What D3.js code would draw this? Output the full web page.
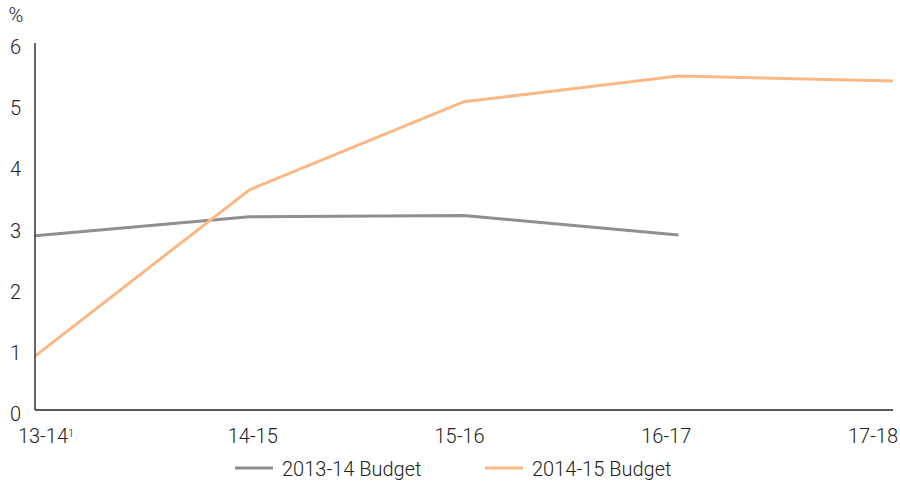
<!DOCTYPE html>
<html>
<head>
<meta charset="utf-8">
<script src="https://cdn.jsdelivr.net/npm/d3@7"></script>
<style>
body { margin: 0; background: #fff; }
text { font-family: Roboto, "Liberation Sans", sans-serif; font-weight: 300; fill: #222; }
</style>
</head>
<body>
<div id="chart"></div>
<script>
var years = ["13-14", "14-15", "15-16", "16-17", "17-18"];
var budget1314 = [2.85, 3.16, 3.18, 2.86, null];
var budget1415 = [0.88, 3.60, 5.04, 5.46, 5.38];
var yTicks = [0, 1, 2, 3, 4, 5, 6];
var seriesNames = ["2013-14 Budget", "2014-15 Budget"];
var seriesColors = ["#8f8f91", "#fbb884"];

var width = 900, height = 483;
var svg = d3.select("#chart").append("svg")
	.attr("width", width)
	.attr("height", height);

var x = d3.scalePoint().domain(years).range([35, 893]);
// category labels sit on their own even spread in the original
var xLab = d3.scalePoint().domain(years).range([46, 873]);
var y = d3.scaleLinear().domain([0, 6]).range([410, 43]);

// y labels
svg.selectAll(".ylab")
	.data(yTicks)
	.enter().append("text")
	.attr("x", 21)
	.attr("y", function(d) { return y(d) + 4; })
	.attr("dy", "0.35em")
	.attr("text-anchor", "end")
	.attr("font-size", 20)
	.text(function(d) { return d; });

svg.append("text")
	.attr("x", 16)
	.attr("y", 15)
	.attr("dy", "0.35em")
	.attr("text-anchor", "middle")
	.attr("font-size", 20)
	.text("%");

// x labels
var xl = svg.selectAll(".xlab")
	.data(years)
	.enter().append("text")
	.attr("x", function(d) { return xLab(d); })
	.attr("y", 443)
	.attr("text-anchor", "middle")
	.attr("font-size", 20);
xl.append("tspan").text(function(d) { return d; });
xl.filter(function(d, i) { return i == 0; })
	.append("tspan")
	.attr("font-size", 11)
	.attr("dy", -6)
	.text("1");

// lines
var line = d3.line()
	.defined(function(d) { return d != null; })
	.x(function(d, i) { return x(years[i]); })
	.y(function(d) { return y(d); });

[budget1314, budget1415].forEach(function(s, k) {
	svg.append("path")
		.datum(s)
		.attr("d", line)
		.attr("fill", "none")
		.attr("stroke", seriesColors[k])
		.attr("stroke-width", 3);
});

// axes
svg.append("line")
	.attr("x1", x(years[0])).attr("x2", x(years[0]))
	.attr("y1", y(6)).attr("y2", y(0))
	.attr("stroke", "#333").attr("stroke-width", 1.5);
svg.append("line")
	.attr("x1", x(years[0])).attr("x2", x(years[4]))
	.attr("y1", y(0)).attr("y2", y(0))
	.attr("stroke", "#222").attr("stroke-width", 1.5);

// legend
var legX = [235, 485];
seriesNames.forEach(function(n, k) {
	svg.append("line")
		.attr("x1", legX[k]).attr("x2", legX[k] + 38)
		.attr("y1", 468).attr("y2", 468)
		.attr("stroke", seriesColors[k])
		.attr("stroke-width", 3);
	svg.append("text")
		.attr("x", legX[k] + 47)
		.attr("y", 476)
		.attr("font-size", 20)
		.text(n);
});
</script>
</body>
</html>
